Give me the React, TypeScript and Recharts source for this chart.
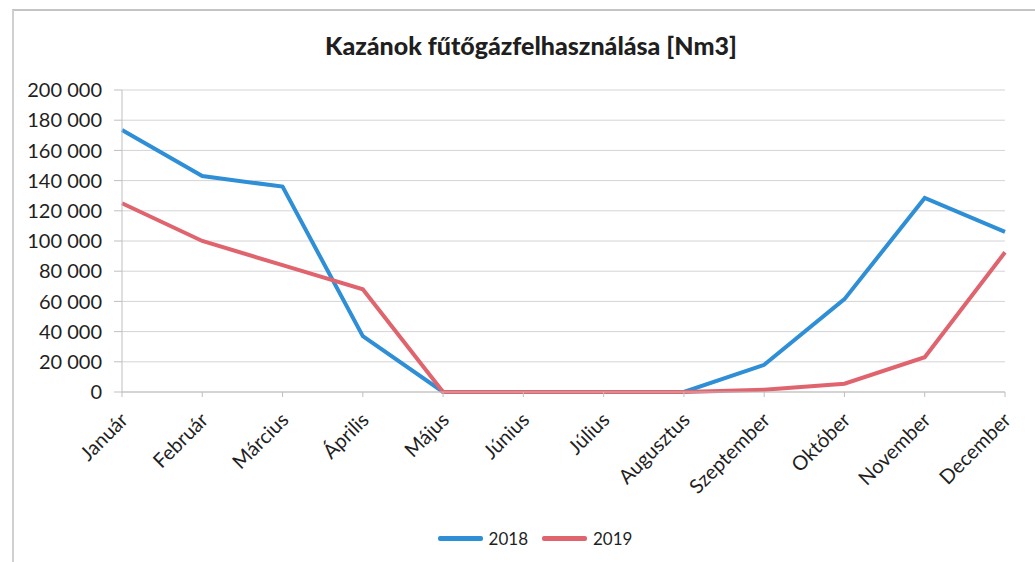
import React from 'react';
import { LineChart, Line, XAxis, YAxis, CartesianGrid, Legend } from 'recharts';

const months = ['Január', 'Február', 'Március', 'Április', 'Május', 'Június', 'Július', 'Augusztus', 'Szeptember', 'Október', 'November', 'December'];
const values2018 = [173500, 143000, 136000, 37000, 0, 0, 0, 0, 18000, 61500, 128500, 106000];
const values2019 = [125000, 100000, 84000, 68000, 0, 0, 0, 0, 1500, 5500, 23000, 92500];
const yTicks = [0, 20000, 40000, 60000, 80000, 100000, 120000, 140000, 160000, 180000, 200000];
const seriesNames = ['2018', '2019'];
const colors = ['#2E8FD6', '#E0646E'];

const data = months.map((m, i) => ({ month: m, s2018: values2018[i], s2019: values2019[i] }));

const fmt = (v: number) => (v === 0 ? '0' : `${Math.round(v / 1000)} 000`);

const FONT = 'Lato, "Open Sans", sans-serif';

const XTick = (props: any) => {
  const { x, y, payload } = props;
  return (
    <g transform={`translate(${x + 3},${y + 18})`}>
      <text x={0} y={0} dy={6} textAnchor="end" transform="rotate(-45)" fill="#1f1f1f" fontSize={20} fontFamily={FONT}>
        {payload.value}
      </text>
    </g>
  );
};

const LegendContent = () => (
  <div style={{ display: 'flex', justifyContent: 'center', alignItems: 'center', fontFamily: FONT, fontSize: 17, color: '#1f1f1f' }}>
    {seriesNames.map((n, i) => (
      <div key={n} style={{ display: 'flex', alignItems: 'center', marginRight: i === 0 ? 14 : 0 }}>
        <div style={{ width: 45, height: 5, background: colors[i], borderRadius: 2, marginRight: 6 }} />
        <span>{n}</span>
      </div>
    ))}
  </div>
);

export default function App() {
  return (
    <div style={{ position: 'absolute', left: 0, top: 0, width: 1035, height: 562, background: '#fff' }}>
      <div style={{ position: 'absolute', left: 12, top: 9, width: 1030, height: 560, borderTop: '2px solid #c4c4c4', borderLeft: '2px solid #d0d0d0' }} />
      <div style={{ position: 'absolute', left: 0, top: 30, width: 1062, textAlign: 'center', fontFamily: FONT, fontWeight: 900, fontSize: 25, color: '#1f1f1f' }}>
        Kazánok fűtőgázfelhasználása [Nm3]
      </div>
      <div style={{ position: 'absolute', left: 0, top: 0 }}>
        <LineChart width={1035} height={562} data={data} margin={{ top: 90, right: 30, left: 12, bottom: 70 }}>
          <CartesianGrid vertical={false} stroke="#d4d4d4" />
          <XAxis dataKey="month" stroke="#bfbfbf" tickSize={5} height={100} interval={0} tick={<XTick />} />
          <YAxis
            domain={[0, 200000]}
            ticks={yTicks}
            tickFormatter={fmt}
            width={110}
            stroke="#bfbfbf"
            tickSize={8}
            tickMargin={12}
            tick={{ fill: '#1f1f1f', fontSize: 20, fontFamily: FONT }}
            interval={0}
          />
          <Legend verticalAlign="middle" align="center" layout="horizontal" wrapperStyle={{ top: 528, left: 0, width: 1070 }} content={<LegendContent />} />
          <Line dataKey="s2018" name="2018" stroke={colors[0]} strokeWidth={4} dot={false} isAnimationActive={false} />
          <Line dataKey="s2019" name="2019" stroke={colors[1]} strokeWidth={4} dot={false} isAnimationActive={false} />
        </LineChart>
      </div>
    </div>
  );
}
